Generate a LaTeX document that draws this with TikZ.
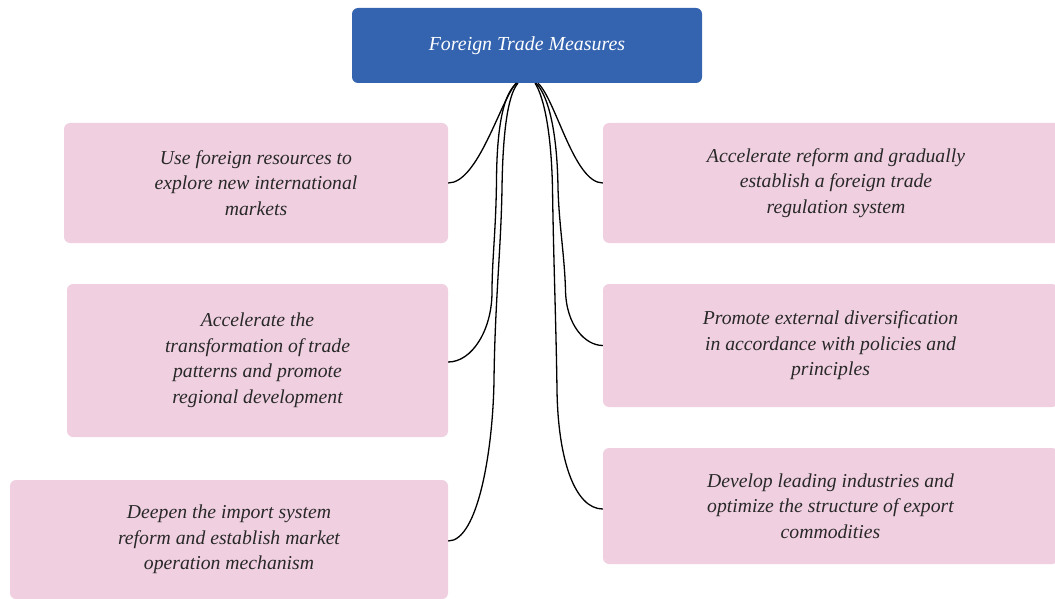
\documentclass[tikz,border=0pt]{standalone}
\usepackage{fontspec}
\setmainfont{Liberation Serif}
\definecolor{topblue}{RGB}{52,99,176}
\definecolor{boxpink}{RGB}{240,208,224}
\definecolor{txtgray}{RGB}{40,40,40}
\tikzset{
  itembox/.style={fill=boxpink, rounded corners=6pt, inner sep=0pt, align=center,
    text=txtgray, font=\fontsize{19.7}{25.5}\selectfont\itshape},
  headbox/.style={fill=topblue, rounded corners=6pt, inner sep=0pt, align=center,
    text=white, font=\fontsize{19.9}{25}\selectfont\itshape},
  conn/.style={draw=black, line width=1.3pt}
}
\begin{document}
\begin{tikzpicture}[x=1pt,y=-1pt]
\useasboundingbox (0,0) rectangle (1055,599);
\node[headbox, minimum width=350pt, minimum height=75pt] (top) at (527,45.5) {Foreign Trade Measures};
\node[itembox, minimum width=384pt, minimum height=120pt] (l1) at (256,183)
  {Use foreign resources to\\explore new international\\markets};
\node[itembox, minimum width=381pt, minimum height=153pt] (l2) at (257.5,360.5)
  {Accelerate the\\transformation of trade\\patterns and promote\\regional development};
\node[itembox, minimum width=438pt, minimum height=119pt] (l3) at (229,539.5)
  {Deepen the import system\\reform and establish market\\operation mechanism};
\node[itembox, minimum width=466pt, minimum height=120pt] (r1) at (836,183)
  {Accelerate reform and gradually\\establish a foreign trade\\regulation system};
\node[itembox, minimum width=455pt, minimum height=123pt] (r2) at (830.5,345.5)
  {Promote external diversification\\in accordance with policies and\\principles};
\node[itembox, minimum width=455pt, minimum height=116pt] (r3) at (830.5,506)
  {Develop leading industries and\\optimize the structure of export\\commodities};
% connectors
\draw[conn] ([xshift=-11pt]top.south) .. controls (500,102) and (478,183) .. (l1.east);
\draw[conn] ([xshift=-10pt]top.south) .. controls (505,92) and (497,120) .. (496.5,180)
  .. controls (496,230) and (492,260) .. (492,292)
  .. controls (492,330) and (472,362) .. ([yshift=-1.5pt]l2.east);
\draw[conn] ([xshift=-9pt]top.south) .. controls (510,92) and (503,120) .. (502,188)
  .. controls (501,250) and (495,300) .. (494,380)
  .. controls (493,450) and (478,541) .. ([yshift=-1.5pt]l3.east);
\draw[conn] ([xshift=11pt]top.south) .. controls (556,100) and (574,183) .. (r1.west);
\draw[conn] ([xshift=9pt]top.south) .. controls (545,92) and (557,120) .. (558,188)
  .. controls (559,225) and (564.5,255) .. (565.5,290)
  .. controls (566,325) and (585,345.5) .. (r2.west);
\draw[conn] ([xshift=8pt]top.south) .. controls (541,92) and (551,120) .. (552.5,188)
  .. controls (553.5,260) and (556,320) .. (557,390)
  .. controls (558,460) and (575,509) .. ([yshift=-3pt]r3.west);
\end{tikzpicture}
\end{document}
